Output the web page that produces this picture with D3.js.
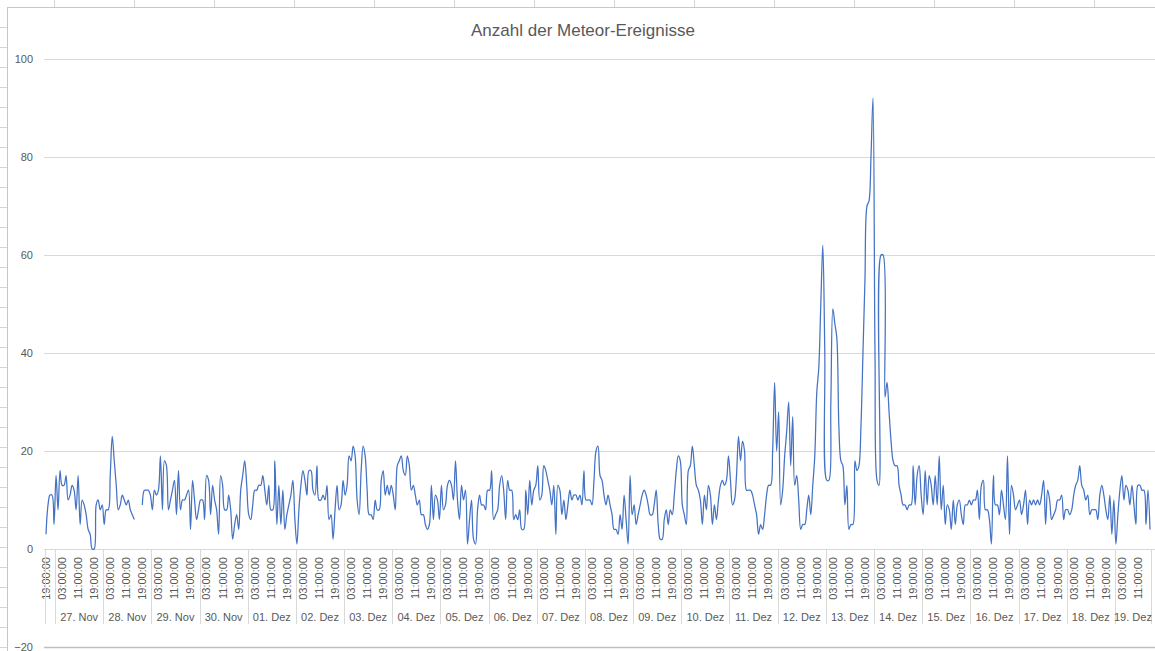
<!DOCTYPE html>
<html>
<head>
<meta charset="utf-8">
<script src="https://cdn.jsdelivr.net/npm/d3@7"></script>
<style>
  html, body { margin: 0; padding: 0; background: #ffffff; }
  svg { display: block; }
  text { font-family: "Liberation Sans", Arial, sans-serif; fill: #595959; }
</style>
</head>
<body>
<svg id="chart" width="1155" height="651"></svg>
<script>
// ---------------- DATA ----------------
const title = "Anzahl der Meteor-Ereignisse";
const startDay = "2019-11-26";      // first category day
const startHour = 19;               // first category hour
const dayLabels = ["26. Nov","27. Nov","28. Nov","29. Nov","30. Nov","01. Dez","02. Dez","03. Dez","04. Dez",
  "05. Dez","06. Dez","07. Dez","08. Dez","09. Dez","10. Dez","11. Dez","12. Dez","13. Dez","14. Dez",
  "15. Dez","16. Dez","17. Dez","18. Dez","19. Dez"];
const timeLabels = ["19:00:00","03:00:00","11:00:00"];
const yTicks = [-20, 0, 20, 40, 60, 80, 100];
const values = [
  3, 9, 11, 11, 5, 15, 8, 16, 13, 13,
  15, 10, 11, 13, 12, 8, 15, 5, 10, 9,
  7, 4, 3, 0, 0, 9, 10, 8, 9, 5,
  8, 8, 15, 23, 18, 13, 8, 9, 11, 10,
  9, 10, 8, 7, 6, null, null, null, 9, 12,
  12, 12, 11, 8, 12, 11, 12, 19, 8, 18,
  17, 8, 10, 12, 14, 7, 16, 8, 10, 10,
  11, 12, 4, 14, 10, 6, 8, 10, 10, 6,
  15, 14, 7, 13, 10, 8, 3, 15, 13, 8,
  8, 11, 8, 2, 5, 7, 4, 12, 15, 18,
  13, 7, 6, 9, 12, 12, 13, 13, 15, 12,
  9, 13, 8, 8, 18, 5, 13, 5, 12, 4,
  7, 9, 11, 14, 6, 1, 8, 13, 16, 14,
  11, 16, 16, 12, 11, 17, 10, 10, 11, 10,
  13, 6, 7, 2, 8, 13, 8, 9, 14, 11,
  13, 19, 18, 21, 19, 10, 7, 16, 21, 19,
  12, 7, 7, 6, 10, 8, 8, 14, 16, 11,
  13, 11, 13, 11, 8, 17, 18, 19, 16, 15,
  19, 17, 12, 13, 11, 9, 10, 7, 7, 5,
  4, 5, 13, 6, 11, 10, 6, 13, 8, 9,
  13, 14, 13, 10, 18, 10, 6, 13, 10, 12,
  1, 6, 10, 2, 1, 8, 11, 9, 9, 8,
  12, 12, 16, 6, 7, 8, 13, 15, 12, 6,
  14, 12, 12, 6, 7, 6, 8, 4, 4, 12,
  7, 14, 9, 12, 13, 17, 10, 11, 17, 16,
  14, 12, 9, 13, 3, 13, 12, 7, 10, 6,
  9, 12, 10, 11, 11, 10, 11, 9, 16, 10,
  10, 10, 9, 14, 20, 21, 15, 14, 11, 9,
  11, 9, 7, 4, 4, 3, 7, 4, 11, 6,
  1, 15, 7, 9, 5, 7, 9, 11, 12, 11,
  9, 7, 7, 9, 12, 5, 2, 2, 6, 8,
  5, 8, 7, 11, 16, 19, 18, 9, 7, 5,
  16, 17, 21, 17, 13, 12, 10, 5, 11, 8,
  13, 11, 5, 9, 6, 10, 13, 14, 13, 14,
  19, 14, 9, 10, 15, 23, 18, 22, 20, 12,
  12, 12, 11, 9, 7, 3, 5, 4, 7, 11,
  13, 13, 20, 34, 20, 28, 9, 12, 19, 24,
  30, 17, 27, 13, 15, 10, 4, 5, 5, 8,
  11, 7, 13, 19, 32, 37, 50, 62, 40, 14,
  14, 30, 49, 46, 43, 25, 18, 17, 9, 13,
  4, 5, 5, 18, 16, 17, 25, 40, 55, 70,
  71, 80, 92, 40, 14, 13, 60, 60, 31, 34,
  28, 22, 18, 17, 17, 13, 11, 9, 9, 8,
  9, 9, 17, 9, 15, 17, 11, 7, 16, 9,
  15, 13, 9, 15, 9, 19, 8, 13, 5, 9,
  8, 4, 10, 5, 9, 10, 7, 5, 9, 9,
  10, 9, 10, 10, 12, 6, 13, 14, 8, 8,
  6, 1, 15, 9, 9, 7, 12, 9, 6, 19,
  3, 13, 11, 8, 9, 10, 7, 9, 12, 5,
  10, 9, 10, 9, 10, 9, 11, 14, 5, 12,
  10, 6, 7, 8, 10, 10, 11, 6, 8, 8,
  7, 8, 11, 13, 14, 17, 13, 12, 10, 11,
  7, 8, 8, 8, 6, 11, 13, 11, 8, 6,
  11, 3, 10, 1, 7, 12, 15, 10, 13, 12,
  9, 13, 9, 5, 13, 13, 12, 12, 5, 12,
  4
];

// hourly categories (one per value)
const t0 = new Date(startDay + "T00:00:00Z");
t0.setUTCHours(startHour);
const categories = values.map((v, i) => new Date(t0.getTime() + i * 3600e3));
const pad = n => String(n).padStart(2, "0");
const hourLabel = d => pad(d.getUTCHours()) + ":00:00";
const data = categories.map((c, i) => ({ c, key: i, v: values[i] }));

// ---------------- LAYOUT ----------------
const svg = d3.select("#chart");
const W = 1155, H = 651;

// spreadsheet backdrop
const bg = svg.append("g");
bg.append("rect").attr("width", W).attr("height", H).attr("fill", "#ffffff");
d3.range(54, W, 80).forEach(x => bg.append("line").attr("x1", x + 0.5).attr("x2", x + 0.5)
  .attr("y1", 0).attr("y2", 7).attr("stroke", "#d4d4d4"));
d3.range(27, H, 20).forEach(y => bg.append("line").attr("x1", 0).attr("x2", 7)
  .attr("y1", y + 0.5).attr("y2", y + 0.5).attr("stroke", "#d4d4d4"));
bg.append("line").attr("x1", 7.5).attr("x2", 7.5).attr("y1", 7).attr("y2", H).attr("stroke", "#c6c6c6");
bg.append("line").attr("x1", 7).attr("x2", W).attr("y1", 7.5).attr("y2", 7.5).attr("stroke", "#c6c6c6");

// scales
const x = d3.scaleBand().domain(data.map(d => d.key)).range([45, 1151]).padding(0);
const xc = k => x(k) + x.bandwidth() / 2;
const y = d3.scaleLinear().domain([-20, 100]).range([647, 59]);

// gridlines
svg.append("g")
  .attr("transform", "translate(0,0)")
  .call(d3.axisLeft(y).tickValues(yTicks).tickSize(-(W - 44)).tickFormat(""))
  .attr("transform", "translate(44,0)")
  .call(g => g.select(".domain").remove())
  .call(g => g.selectAll(".tick line").attr("stroke", d => d === -20 ? "#bfbfbf" : "#d9d9d9")
     .attr("stroke-width", d => d === -20 ? 1.5 : 1));

// y labels
const yAx = svg.append("g").attr("transform", "translate(33,0)")
  .call(d3.axisLeft(y).tickValues(yTicks).tickSize(0).tickPadding(0));
yAx.select(".domain").remove();
yAx.selectAll("text").attr("font-size", 11).attr("fill", "#595959")
  .attr("font-family", "Liberation Sans, Arial, sans-serif");

// category axis (hour labels every 8th category)
const labelKeys = data.filter((d, i) => i % 8 === 0).map(d => d.key);
const xAx = svg.append("g").attr("transform", `translate(0,${y(0)})`)
  .call(d3.axisBottom(x).tickValues(labelKeys).tickSize(0).tickPadding(0)
    .tickFormat(k => hourLabel(categories[k])));
xAx.select(".domain").attr("stroke", "#d9d9d9").attr("d", `M45,0.5H1151`);
xAx.selectAll("text")
  .attr("font-size", 11).attr("fill", "#595959")
  .attr("font-family", "Liberation Sans, Arial, sans-serif")
  .attr("text-anchor", "end")
  .attr("transform", "translate(0,8) rotate(-90)")
  .attr("x", 0).attr("y", 0).attr("dy", "0.35em");

// day groups
const dayStarts = [0];
data.forEach((d, i) => { if (i > 0 && d.c.getUTCHours() === 0) dayStarts.push(i); });
const bounds = dayStarts.map(i => x(i)).concat([x(data.length - 1) + x.bandwidth()]);
const dayG = svg.append("g");
bounds.forEach(b => dayG.append("line")
  .attr("x1", Math.round(b) + 0.5).attr("x2", Math.round(b) + 0.5)
  .attr("y1", y(0)).attr("y2", 624).attr("stroke", "#d9d9d9"));
dayStarts.forEach((s, j) => {
  const x0 = bounds[j], x1 = bounds[j + 1];
  if (x1 - x0 < 30) return;
  dayG.append("text").attr("x", (x0 + x1) / 2).attr("y", 621)
    .attr("text-anchor", "middle").attr("font-size", 11).text(dayLabels[j]);
});

// line
const line = d3.line()
  .defined(d => d.v !== null)
  .x(d => xc(d.key))
  .y(d => y(d.v))
  .curve(d3.curveCatmullRom.alpha(0.5));
svg.append("path").datum(data).attr("d", line)
  .attr("fill", "none").attr("stroke", "#4472C4").attr("stroke-width", 1.25)
  .attr("stroke-linejoin", "round");

// title
svg.append("text").attr("x", 583).attr("y", 36).attr("text-anchor", "middle")
  .attr("font-size", 17).attr("fill", "#595959").text(title);
</script>
</body>
</html>
